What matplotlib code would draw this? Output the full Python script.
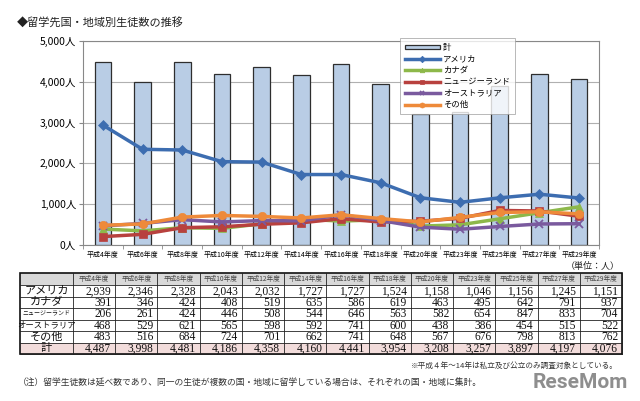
import numpy as np
import matplotlib
matplotlib.use('Agg')
import matplotlib.pyplot as plt
from matplotlib.patches import Rectangle

plt.rcParams['font.family'] = ['Noto Sans CJK JP', 'DejaVu Sans']

years = ['平成4年度', '平成6年度', '平成8年度', '平成10年度', '平成12年度', '平成14年度',
         '平成16年度', '平成18年度', '平成20年度', '平成23年度', '平成25年度', '平成27年度', '平成29年度']
america = [2939, 2346, 2328, 2043, 2032, 1727, 1727, 1524, 1158, 1046, 1156, 1245, 1151]
canada = [391, 346, 424, 408, 519, 635, 586, 619, 463, 495, 642, 791, 937]
nz = [206, 261, 424, 446, 508, 544, 646, 563, 582, 654, 847, 833, 704]
australia = [468, 529, 621, 565, 598, 592, 741, 600, 438, 386, 454, 515, 522]
other = [483, 516, 684, 724, 701, 662, 741, 648, 567, 676, 798, 813, 762]
total = [4487, 3998, 4481, 4186, 4358, 4160, 4441, 3954, 3208, 3257, 3897, 4197, 4076]

series_names = ['アメリカ', 'カナダ', 'ニュージーランド', 'オーストラリア', 'その他']
series_vals = [america, canada, nz, australia, other]
series_colors = ['#3D6DB0', '#8DB84A', '#B8413E', '#7A5A9E', '#EE8A3A']
series_markers = ['D', '^', 's', 'x', 'o']
yticks = [0, 1000, 2000, 3000, 4000, 5000]

W, H = 640, 401
fig = plt.figure(figsize=(W / 100, H / 100), dpi=100)

def fx(x):
    return x / W

def fy(y):
    return 1 - y / H

# chart
ax = fig.add_axes([fx(83), fy(245), fx(599) - fx(83), fy(41) - fy(245)])
x = np.arange(len(years))
bars = ax.bar(x, total, width=0.42, color='#B9CDE5', edgecolor='#2E2E2E', linewidth=0.9,
              label='計', zorder=2)
handles = [bars]
for name, vals, c, m in zip(series_names, series_vals, series_colors, series_markers):
    ms = 6 if m in ('o', 's') else 5.5
    ln, = ax.plot(x, vals, color=c, marker=m, markersize=ms, linewidth=2.5, label=name,
                  markeredgewidth=1.3 if m == 'x' else 0.5, zorder=3)
    handles.append(ln)

ax.set_xlim(-0.5, len(years) - 0.5)
ax.set_ylim(0, 5000)
ax.set_yticks(yticks)
ax.set_yticklabels(['{:,}人'.format(v) for v in yticks], fontsize=7.5)
ax.set_xticks(x)
ax.set_xticklabels(years, fontsize=5)
ax.set_xticks(np.arange(len(years) + 1) - 0.5, minor=True)
ax.tick_params(axis='x', which='major', length=0, pad=4)
ax.tick_params(axis='x', which='minor', length=3, color='#888888')
ax.tick_params(axis='y', length=3, color='#888888', pad=2)
ax.grid(axis='y', color='#B0B0B0', linewidth=0.8, zorder=0)
for s in ax.spines.values():
    s.set_color('#888888')
    s.set_linewidth(0.8)

leg = fig.legend(handles=handles, labels=['計'] + series_names, loc='upper left',
                 bbox_to_anchor=(fx(396), fy(34)), fontsize=6,
                 frameon=True, fancybox=False, edgecolor='#999999', handlelength=4.2,
                 handleheight=0.45, labelspacing=0.3, borderpad=0.55, handletextpad=0.4,
                 markerscale=0.6)
leg.get_frame().set_linewidth(0.6)

# title
fig.text(fx(17), fy(22), '◆留学先国・地域別生徒数の推移', fontsize=8, va='center', ha='left',
         color='#222222')

# table drawn in pixel coordinates
tab = fig.add_axes([0, 0, 1, 1])
tab.set_xlim(0, W)
tab.set_ylim(H, 0)
tab.axis('off')

left, lab_w = 20, 53
col_w = (622 - 73) / len(years)
top = 273
head_h = 12
row_h = 11.5
row_labels = series_names + ['計']
row_vals = series_vals + [total]
label_sizes = [8, 8, 4.3, 6, 8, 8]

tab.text(620, 266, '（単位：人）', fontsize=6.5, ha='right', va='center', color='#222222')

# header
tab.add_patch(Rectangle((left, top), lab_w + col_w * len(years), head_h,
                        facecolor='#D9D9D9', edgecolor='none'))
for i, yr in enumerate(years):
    cx = left + lab_w + col_w * i
    tab.text(cx + col_w / 2, top + head_h / 2, yr, fontsize=4.8, ha='center', va='center',
             color='#444444')
# 計 row fill
tab.add_patch(Rectangle((left, top + head_h + row_h * 5), lab_w + col_w * len(years), row_h,
                        facecolor='#F2DCDB', edgecolor='none'))

for r, (lab, vals) in enumerate(zip(row_labels, row_vals)):
    cy = top + head_h + row_h * r + row_h / 2
    tab.text(left + lab_w / 2, cy, lab, fontsize=label_sizes[r], ha='center', va='center',
             color='#111111')
    for i, v in enumerate(vals):
        cx = left + lab_w + col_w * (i + 1) - 4
        tab.text(cx, cy + 0.5, '{:,}'.format(v), fontsize=8.3, ha='right', va='center',
                 color='#111111', family=['Liberation Serif', 'DejaVu Serif'])

# grid lines
bottom = top + head_h + row_h * 6
right = left + lab_w + col_w * len(years)
for r in range(7):
    yy = top + head_h + row_h * r
    tab.plot([left, right], [yy, yy], color='#222222', linewidth=0.6)
for i in range(len(years) + 1):
    xx = left + lab_w + col_w * i
    tab.plot([xx, xx], [top, bottom], color='#222222', linewidth=0.6)
tab.add_patch(Rectangle((left, top), right - left, bottom - top, facecolor='none',
                        edgecolor='#111111', linewidth=1.2))

# notes
tab.text(618, 366, '※平成４年～14年は私立及び公立のみ調査対象としている。', fontsize=5.5,
         ha='right', va='center', color='#333333')
tab.text(18, 383, '（注）留学生徒数は延べ数であり、同一の生徒が複数の国・地域に留学している場合は、それぞれの国・地域に集計。',
         fontsize=6.3, ha='left', va='center', color='#333333')
tab.text(628, 383, 'ReseMom', fontsize=15, fontweight='bold', ha='right', va='center',
         color='#7A7A7A', alpha=0.85, family=['Roboto', 'DejaVu Sans'])

fig.savefig('out.png', dpi=100)
